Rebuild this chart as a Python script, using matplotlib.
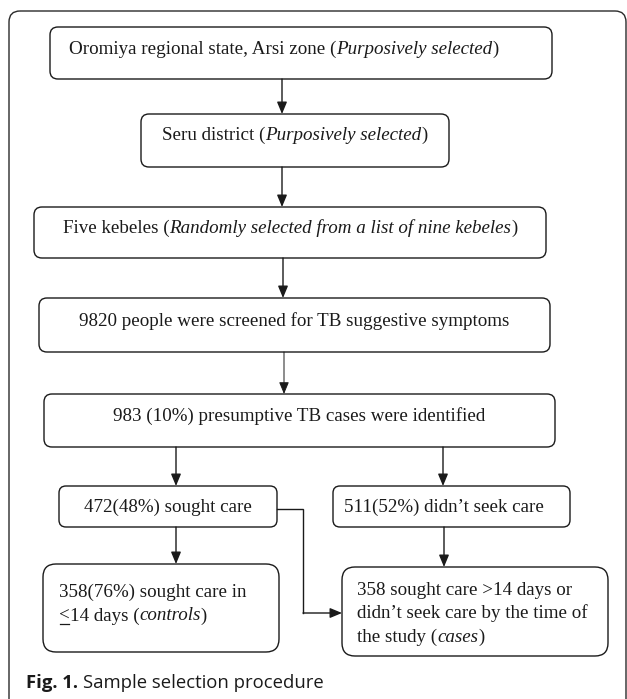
import matplotlib
matplotlib.use("Agg")
import matplotlib.pyplot as plt
from matplotlib.patches import FancyBboxPatch

# ---------------- content ----------------
# each box: list of lines, each line: list of (text, style) segments;
# n=normal, i=italic, b=bold, u=underlined
step_labels = [
    [[("Oromiya regional state, Arsi zone (", "n"), ("Purposively selected", "i"), (")", "n")]],
    [[("Seru district (", "n"), ("Purposively selected", "i"), (")", "n")]],
    [[("Five kebeles (", "n"), ("Randomly selected from a list of nine kebeles", "i"), (")", "n")]],
    [[("9820 people were screened for TB suggestive symptoms", "n")]],
    [[("983 (10%) presumptive TB cases were identified", "n")]],
]
branch_labels = [
    [[("472(48%) sought care", "n")]],
    [[("511(52%) didn\u2019t seek care", "n")]],
]
outcome_labels = [
    [[("358(76%) sought care in", "n")],
     [("<", "u"), ("14 days (", "n"), ("controls", "i"), (")", "n")]],
    [[("358 sought care >14 days or", "n")],
     [("didn\u2019t seek care by the time of", "n")],
     [("the study (", "n"), ("cases", "i"), (")", "n")]],
]
caption_bold = "Fig. 1."
caption_text = "Sample selection procedure"

# ---------------- layout (pixels, y downward) ----------------
# (x0, y0, x1, y1, radius, align, text_x, first_baseline)
layout = [
    (50, 27, 552, 79, 8, "left", 69, 54),
    (141, 114, 449, 167, 8, "center", 295, 140),
    (34, 207, 546, 258, 8, "center", 290, 233),
    (39, 298, 550, 352, 8, "center", 294.5, 326),
    (44, 394, 555, 447, 8, "center", 299.5, 421),
    (59, 486, 277, 527, 7, "center", 168, 512),
    (333, 486, 570, 527, 7, "left", 344, 512),
    (43, 564, 279, 652, 13, "left", 59, 597),
    (342, 567, 608, 656, 13, "left", 357, 595),
]
line_gap = 23.5
arrows = [  # (x, y_start, y_end, lw)
    (282, 79, 114, 1.0),
    (282, 167, 207, 1.0),
    (283, 258, 298, 1.0),
    (284, 352, 394, 0.7),
    (176, 447, 486, 1.0),
    (443, 447, 486, 1.0),
    (176, 527, 564, 1.0),
    (444, 527, 567, 1.0),
]
connector = [(277, 509), (303, 509), (303, 613), (342, 613)]

W, H = 627, 699
fig = plt.figure(figsize=(W / 100, H / 100), dpi=100)
ax = fig.add_axes([0, 0, 1, 1])
ax.set_xlim(0, W)
ax.set_ylim(H, 0)
ax.axis("off")
renderer = fig.canvas.get_renderer()

SERIF = "Liberation Serif"
SANS = "Open Sans"
INK = "#1a1a1a"


def make_segments(segs, size, family, y):
    out = []
    for s, st in segs:
        t = ax.text(0, y, s, fontsize=size, family=family,
                    style="italic" if st == "i" else "normal",
                    weight="bold" if st == "b" else "normal",
                    va="baseline", ha="left", color=INK)
        w = t.get_window_extent(renderer=renderer).width
        out.append((t, w, st))
    return out


def draw_line(segs, x, y, size, family=SERIF, align="left", gap=0.0):
    parts = make_segments(segs, size, family, y)
    total = sum(w for _, w, _ in parts) + gap * (len(parts) - 1)
    cur = x - total / 2 if align == "center" else x
    for t, w, st in parts:
        t.set_x(cur)
        if st == "u":
            ax.plot([cur + 0.5, cur + w - 0.5], [y + 3, y + 3], color=INK, lw=0.9)
        cur += w + gap
    return total


def measure(segs, size, family):
    parts = make_segments(segs, size, family, 0)
    total = sum(w for _, w, _ in parts)
    for t, _, _ in parts:
        t.remove()
    return total


# fit font size to the measured width of the first line
base = 13.0
fs = base * 428.0 / measure(step_labels[0][0], base, SERIF)
cap_fs = 12.0 * 296.0 / (measure([(caption_bold, "b")], 12, SANS)
                         + measure([(caption_text, "n")], 12, SANS) + 5)

# outer frame
frame = FancyBboxPatch((9, 11), 617, 720, boxstyle="round,pad=0,rounding_size=11",
                       fc="none", ec="#2a2a2a", lw=1.0, clip_on=True)
ax.add_patch(frame)

all_labels = step_labels + branch_labels + outcome_labels
for lines, (x0, y0, x1, y1, r, align, tx, by) in zip(all_labels, layout):
    ax.add_patch(FancyBboxPatch((x0, y0), x1 - x0, y1 - y0,
                                boxstyle=f"round,pad=0,rounding_size={r}",
                                fc="white", ec=INK, lw=1.0))
    for k, segs in enumerate(lines):
        draw_line(segs, tx, by + k * line_gap, fs, SERIF, align)

arrow_style = "-|>,head_length=0.6,head_width=0.25"
for x, ys, ye, lw in arrows:
    ax.annotate("", xy=(x, ye), xytext=(x, ys),
                arrowprops=dict(arrowstyle=arrow_style, color=INK, lw=lw,
                                mutation_scale=12, shrinkA=0, shrinkB=0))

cx = [p[0] for p in connector]
cy = [p[1] for p in connector]
ax.plot(cx[:-1], cy[:-1], color=INK, lw=1.0, solid_joinstyle="miter")
ax.annotate("", xy=connector[-1], xytext=connector[-2],
            arrowprops=dict(arrowstyle=arrow_style, color=INK, lw=1.0,
                            mutation_scale=12, shrinkA=0, shrinkB=0))

# caption
draw_line([(caption_bold, "b"), (caption_text, "n")], 26, 688, cap_fs, SANS, "left", gap=5)

fig.savefig("out.png", dpi=100)
